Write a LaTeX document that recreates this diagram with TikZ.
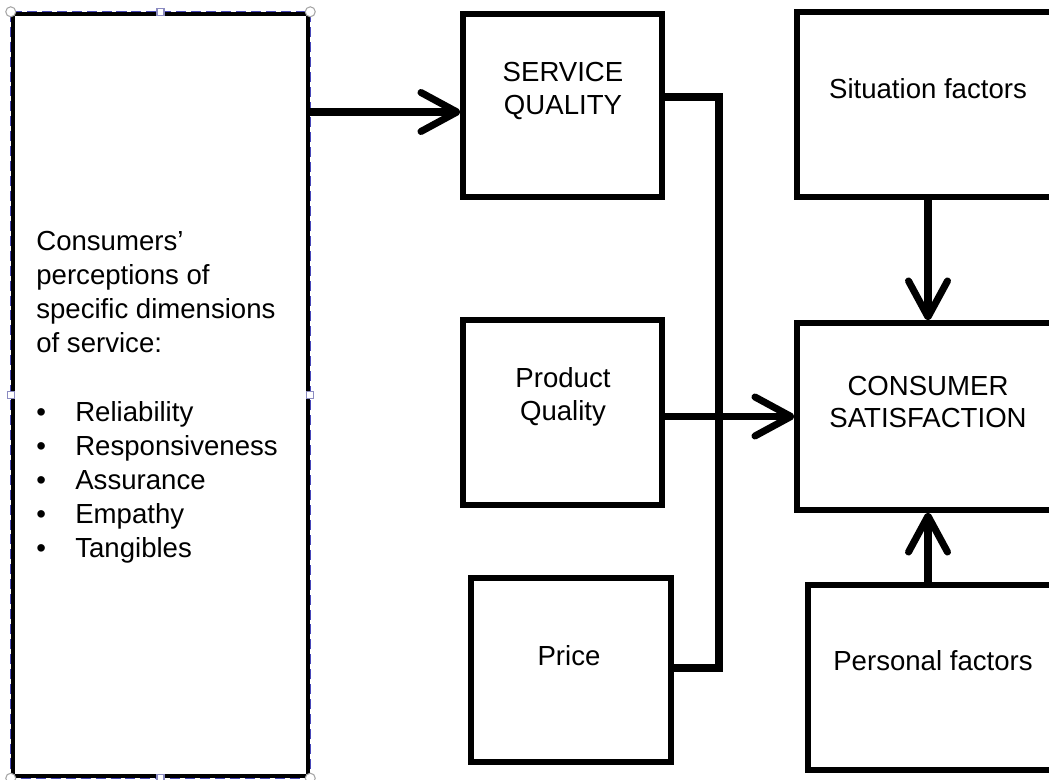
\documentclass[tikz,border=0pt]{standalone}
\usepackage{fontspec}
\setmainfont{Liberation Sans}
\usetikzlibrary{positioning,arrows.meta}
\newcommand{\itembullet}{\makebox[0.78cm][l]{\textbullet}}

\begin{document}
\begin{tikzpicture}[x=0.02cm, y=-0.02cm,
		box/.style={draw, rectangle, line width=2.9pt, inner sep=0pt},
		boxtext/.style={align=center, inner sep=0pt, font=\fontsize{15.7}{18.6}\selectfont},
		arrow/.style={line width=4pt, -{Straight Barb[length=0.72cm, width=0.78cm, round]}},
		busline/.style={line width=4.5pt, line join=miter},
		handlecirc/.style={draw=gray!70, fill=white, line width=0.6pt},
		handlesq/.style={draw=blue!30!gray!70, fill=white, line width=0.6pt}]
				\useasboundingbox (0,0) rectangle (1049,780);
				\clip (0,0) rectangle (1049,780);
				
				% Boîte de gauche (sélectionnée)
				\node[box, line width=2.6pt, minimum width=5.9cm, minimum height=15.24cm] (dims) at (160.5,395) {};
				\draw[dash pattern=on 5.7pt off 2.8pt, draw=blue!45!gray, line width=0.6pt] (dims.north west) rectangle (dims.south east);
				\foreach \c in {north west, north east, south west, south east}
					\draw[handlecirc] (dims.\c) circle (5);
				\foreach \c in {north, south, west, east}
					\draw[handlesq] ([shift={(-3.5,-3.5)}]dims.\c) rectangle ++(7,7);
				\node[anchor=north west, align=left, inner sep=0pt, font=\fontsize{15.7}{19.4}\selectfont] (dimstext) at (36,231)
					{Consumers’\\perceptions of\\specific dimensions\\of service:\\[19.4pt]
					 \itembullet Reliability\\\itembullet Responsiveness\\\itembullet Assurance\\\itembullet Empathy\\\itembullet Tangibles};
				
				% Boîtes du milieu
				\node[box, minimum width=3.98cm, minimum height=3.66cm] (sq) at (562.5,105.5) {};
				\node[box, minimum width=3.98cm, minimum height=3.7cm] (pq) at (562.5,412.5) {};
				\node[box, minimum width=4cm, minimum height=3.68cm] (price) at (571,670) {};
				\node[boxtext] (sqtext) at (563,91) {SERVICE\\QUALITY};
				\node[boxtext] (pqtext) at (563,397) {Product\\Quality};
				\node[boxtext] (pricetext) at (569,656) {Price};
				
				% Boîtes de droite
				\node[box, minimum width=5.24cm, minimum height=3.7cm] (sf) at (928,104.5) {};
				\node[box, minimum width=5.24cm, minimum height=3.74cm] (cs) at (928,416.5) {};
				\node[box, minimum width=5.02cm, minimum height=3.7cm] (pf) at (933.5,677.5) {};
				\node[boxtext] (sftext) at (928,89) {Situation factors};
				\node[boxtext] (cstext) at (928,402) {CONSUMER\\SATISFACTION};
				\node[boxtext] (pftext) at (933,661) {Personal factors};
				
				% Liaisons
				\coordinate (sqin) at ([yshift=-0.13cm]sq.west);
				\coordinate (bustop) at (719,97);
				\coordinate (busbot) at (719,668);
				\draw[arrow] (dims.east |- sqin) -- (sqin);
				\draw[busline] (sq.east |- bustop) -- (bustop) -- (busbot) -- (price.east |- busbot);
				\draw[arrow] (pq.east |- cs.west) -- (cs.west);
				\draw[arrow] (sf.south) -- (cs.north);
				\draw[arrow] (pf.north -| cs.south) -- (cs.south);
			\end{tikzpicture}
\end{document}
